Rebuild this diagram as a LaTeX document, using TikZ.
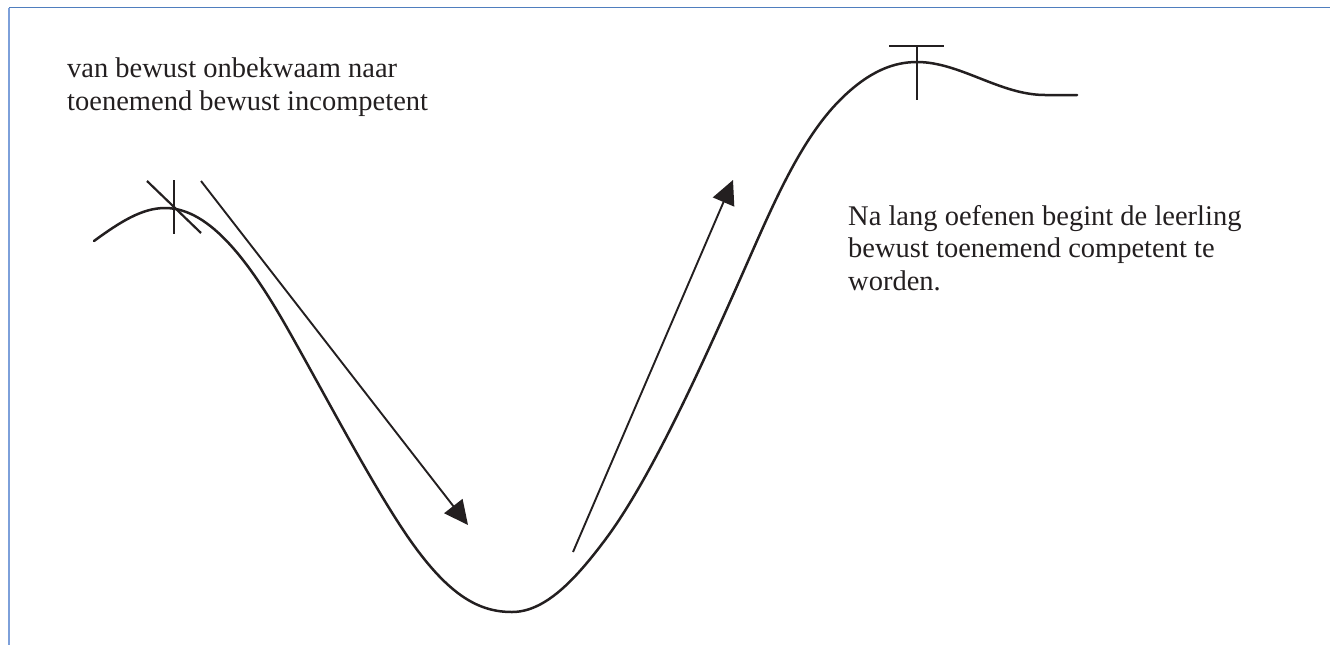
\documentclass[tikz,border=0pt]{standalone}
\usepackage{fontspec}
\setmainfont{Liberation Serif}
\usetikzlibrary{arrows.meta}
\definecolor{ink}{RGB}{35,31,32}
\definecolor{frametop}{RGB}{79,126,190}
\definecolor{frameleft}{RGB}{125,160,218}
\tikzset{
  curve/.style={draw=ink,line width=2.5pt,line cap=round,line join=round},
  tick/.style={draw=ink,line width=2.2pt},
  arrowline/.style={draw=ink,line width=1.9pt,-{Triangle[length=24pt,width=23pt]}},
  label/.style={text=ink,font=\fontsize{28.5}{32.5}\selectfont,align=left,inner sep=0pt,anchor=base west}
}
\begin{document}
\begin{tikzpicture}[x=1pt,y=-1pt]
\useasboundingbox (0,0) rectangle (1330,645);
% frame lines
\draw[frametop,line width=1.8pt] (9,7.5) -- (1330,7.5);
\draw[frameleft,line width=2.2pt] (9,7.5) -- (9,645);
% main curve
\draw[curve] (94,241) .. controls (120,222) and (142,208) .. (165,208)
  .. controls (210,208) and (250,262) .. (290,333)
  .. controls (330,404) and (375,490) .. (410,540)
  .. controls (450,597) and (480,612) .. (512,612)
  .. controls (545,612) and (575,580) .. (605,540)
  .. controls (650,480) and (700,370) .. (745,268)
  .. controls (772,207) and (800,140) .. (840,100)
  .. controls (870,70) and (895,62) .. (917,62)
  .. controls (960,62) and (1000,95) .. (1045,95) -- (1077,95);
% ticks at first peak
\coordinate (v1a) at (174,180); \coordinate (v1b) at (174,234);
\coordinate (d1a) at (147,181); \coordinate (d1b) at (201,233);
\draw[tick] (v1a) -- (v1b);
\draw[tick] (d1a) -- (d1b);
% T at second peak
\coordinate (t2a) at (889,46); \coordinate (t2b) at (944,46);
\coordinate (t2c) at (917,46); \coordinate (t2d) at (917,100);
\draw[tick] (t2a) -- (t2b);
\draw[tick] (t2c) -- (t2d);
% arrows
\coordinate (a1s) at (201,181); \coordinate (a1e) at (468,525);
\coordinate (a2s) at (573,552); \coordinate (a2e) at (733,180);
\draw[arrowline] (a1s) -- (a1e);
\draw[arrowline] (a2s) -- (a2e);
% texts (anchor = baseline of last line)
\node[label] (t1) at (67,110) {van bewust onbekwaam naar\\toenemend bewust incompetent};
\node[label] (t2) at (848,290) {Na lang oefenen begint de leerling\\bewust toenemend competent te\\worden.};
\end{tikzpicture}
\end{document}
